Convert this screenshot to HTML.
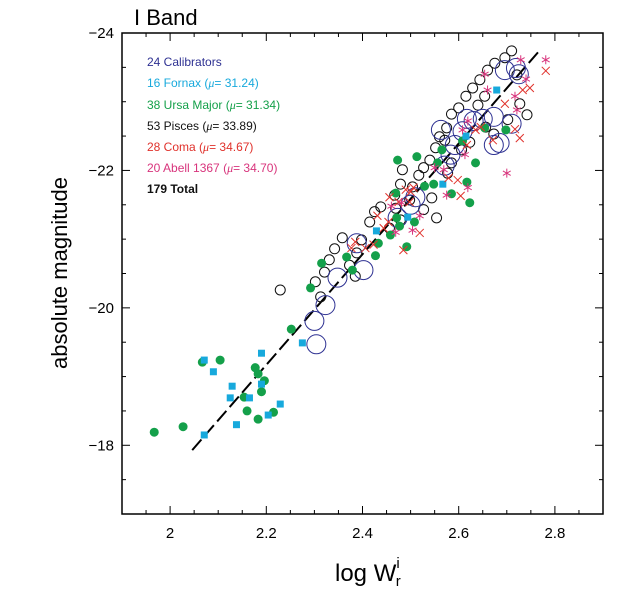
<!DOCTYPE html>
<html><head><meta charset="utf-8"><style>
body{margin:0;background:#fff;}
svg{display:block;font-family:"Liberation Sans",sans-serif;}
</style></head><body>
<svg id="chart" width="620" height="592" viewBox="0 0 620 592" xmlns="http://www.w3.org/2000/svg">
<text x="134" y="25" font-size="22">I Band</text>
<rect x="122" y="33" width="481" height="481" fill="none" stroke="#000" stroke-width="1.5"/>
<g id="ticks"></g>
<g id="marks"></g>
<text x="335" y="581" font-size="24">log W<tspan font-size="15" dx="0" dy="-13">i</tspan><tspan font-size="15" dx="-4" dy="18">r</tspan></text>
<text transform="translate(67,273) rotate(-90)" text-anchor="middle" font-size="22">absolute magnitude</text>
<g font-size="12">
<text x="147" y="66" fill="#2e3192">24 Calibrators</text>
<text x="147" y="87" fill="#17a9dc">16 Fornax (<tspan font-style="italic" font-family="Liberation Serif">μ</tspan>= 31.24)</text>
<text x="147" y="109" fill="#14a04a">38 Ursa Major (<tspan font-style="italic" font-family="Liberation Serif">μ</tspan>= 31.34)</text>
<text x="147" y="130" fill="#111">53 Pisces (<tspan font-style="italic" font-family="Liberation Serif">μ</tspan>= 33.89)</text>
<text x="147" y="151" fill="#e0312b">28 Coma (<tspan font-style="italic" font-family="Liberation Serif">μ</tspan>= 34.67)</text>
<text x="147" y="172" fill="#d8347c">20 Abell 1367 (<tspan font-style="italic" font-family="Liberation Serif">μ</tspan>= 34.70)</text>
<text x="147" y="193" fill="#111" font-weight="bold">179  Total</text>
</g>
</svg>
<script>
const xTicks=[2,2.2,2.4,2.6,2.8];
const xTickLabels=["2","2.2","2.4","2.6","2.8"];
const yTicks=[-24,-22,-20,-18];
const yTickLabels=["\u221224","\u221222","\u221220","\u221218"];
const fitLine=[[2.046,-17.93],[2.765,-23.72]];
const fornaxX=[2.071,2.090,2.129,2.125,2.190,2.190,2.165,2.138,2.204,2.229,2.071,2.275,2.429,2.494,2.567,2.615,2.679];
const fornaxY=[-19.24,-19.07,-18.86,-18.69,-19.34,-18.89,-18.69,-18.30,-18.44,-18.60,-18.15,-19.49,-21.12,-21.32,-21.80,-22.50,-23.17];
const ursaX=[1.967,2.027,2.067,2.104,2.177,2.183,2.196,2.190,2.154,2.160,2.183,2.215,2.252,2.315,2.292,2.367,2.379,2.427,2.433,2.458,2.477,2.492,2.471,2.508,2.469,2.473,2.513,2.529,2.548,2.556,2.565,2.585,2.617,2.623,2.635,2.698,2.608,2.654];
const ursaY=[-18.19,-18.27,-19.21,-19.24,-19.13,-19.04,-18.94,-18.78,-18.70,-18.50,-18.38,-18.48,-19.69,-20.65,-20.29,-20.74,-20.55,-20.76,-20.94,-21.06,-21.19,-20.89,-21.31,-21.25,-21.67,-22.15,-22.20,-21.77,-21.80,-22.11,-22.30,-21.66,-21.83,-21.53,-22.11,-22.59,-22.43,-22.62];
const piscesX=[2.229,2.313,2.302,2.321,2.331,2.342,2.358,2.373,2.385,2.388,2.398,2.415,2.425,2.438,2.456,2.469,2.467,2.479,2.498,2.504,2.517,2.527,2.540,2.552,2.560,2.575,2.585,2.600,2.615,2.629,2.644,2.660,2.675,2.696,2.710,2.721,2.727,2.742,2.702,2.673,2.656,2.623,2.606,2.585,2.577,2.544,2.527,2.554,2.479,2.483,2.571,2.654,2.640];
const piscesY=[-20.26,-20.16,-20.38,-20.52,-20.70,-20.86,-21.02,-20.62,-20.46,-20.80,-20.99,-21.25,-21.40,-21.47,-21.16,-21.45,-21.64,-21.28,-21.57,-21.76,-21.93,-22.04,-22.15,-22.33,-22.49,-22.62,-22.82,-22.91,-23.08,-23.20,-23.32,-23.46,-23.56,-23.64,-23.74,-23.39,-22.97,-22.81,-22.74,-22.53,-22.63,-22.41,-22.30,-22.11,-21.96,-21.60,-21.43,-21.31,-21.80,-22.01,-22.44,-23.08,-22.95];
const calibX=[2.304,2.300,2.323,2.348,2.402,2.388,2.473,2.500,2.510,2.571,2.583,2.592,2.563,2.608,2.617,2.631,2.650,2.673,2.685,2.696,2.719,2.725,2.710,2.673];
const calibY=[-19.47,-19.81,-20.04,-20.44,-20.55,-20.94,-21.31,-21.50,-21.61,-22.07,-22.23,-22.37,-22.59,-22.57,-22.75,-22.72,-22.75,-22.78,-22.40,-23.46,-23.49,-23.40,-22.68,-22.37];
const comaX=[2.377,2.385,2.423,2.431,2.454,2.475,2.500,2.506,2.485,2.456,2.579,2.598,2.604,2.635,2.646,2.671,2.696,2.717,2.727,2.733,2.781,2.498,2.444,2.490,2.748,2.617,2.406,2.519];
const comaY=[-20.87,-20.96,-20.92,-21.34,-21.25,-21.54,-21.69,-21.75,-20.84,-21.61,-21.89,-21.86,-21.63,-22.59,-22.63,-22.44,-22.97,-22.60,-22.47,-23.17,-23.45,-21.54,-21.16,-21.72,-23.20,-22.37,-20.87,-21.09];
const abellX=[2.550,2.608,2.619,2.619,2.660,2.717,2.781,2.729,2.740,2.721,2.460,2.481,2.504,2.519,2.469,2.569,2.575,2.613,2.654,2.700];
const abellY=[-22.04,-22.59,-22.72,-21.75,-23.17,-23.08,-23.61,-23.61,-23.33,-22.88,-21.48,-21.53,-21.13,-21.34,-21.10,-22.01,-21.64,-22.23,-23.40,-21.96];

const NS='http://www.w3.org/2000/svg';
const X0=122,X1=603,Y0=514,Y1=33;
function sx(v){return X0+(v-1.9)/(2.9-1.9)*(X1-X0);}
function sy(v){return Y0-(v-(-17))/(-24-(-17))*(Y0-Y1);}
function mk(tag,attrs,parent){const e=document.createElementNS(NS,tag);for(const k in attrs)e.setAttribute(k,attrs[k]);parent.appendChild(e);return e;}
const tg=document.getElementById('ticks');
for(let v=1.95;v<2.9;v+=0.05){
  const major=Math.abs(v*10-Math.round(v*10))<1e-6&&Math.round(v*10)%2===0;
  const L=major?8:4;const x=sx(v);
  const t1=mk('line',{x1:x,x2:x,y1:Y0,y2:Y0-L,stroke:'#000','stroke-width':1},tg);
  
  
  const t2=mk('line',{x1:x,x2:x,y1:Y1,y2:Y1+L,stroke:'#000','stroke-width':1},tg);
  
  
}
for(let v=-17.5;v>-24;v-=0.5){
  const major=Math.abs(v-Math.round(v))<1e-6&&Math.round(v)%2===0;
  const L=major?8:4;const y=sy(v);
  const t1=mk('line',{x1:X0,x2:X0+L,y1:y,y2:y,stroke:'#000','stroke-width':1},tg);
  
  
  const t2=mk('line',{x1:X1,x2:X1-L,y1:y,y2:y,stroke:'#000','stroke-width':1},tg);
  
  
}
xTicks.forEach((v,i)=>{
  const t=mk('text',{x:sx(v),y:538,'text-anchor':'middle','font-size':15},tg);
  t.textContent=xTickLabels[i];
  
  
});
yTicks.forEach((v,i)=>{
  const t=mk('text',{x:114,y:sy(v)+5,'text-anchor':'end','font-size':15},tg);
  t.textContent=yTickLabels[i];
  
  
});
const mg=document.getElementById('marks');
const fl=mk('line',{x1:sx(fitLine[0][0]),y1:sy(fitLine[0][1]),x2:sx(fitLine[1][0]),y2:sy(fitLine[1][1]),stroke:'#000','stroke-width':2,'stroke-dasharray':'14 5'},mg);


piscesX.forEach((v,i)=>{
  const c=mk('circle',{cx:sx(v),cy:sy(piscesY[i]),r:5,fill:'none',stroke:'#111','stroke-width':1},mg);
  
  
});
calibX.forEach((v,i)=>{
  const c=mk('circle',{cx:sx(v),cy:sy(calibY[i]),r:9.5,fill:'none',stroke:'#2e3192','stroke-width':1},mg);
  
  
});
ursaX.forEach((v,i)=>{
  const c=mk('circle',{cx:sx(v),cy:sy(ursaY[i]),r:4.5,fill:'#14a04a'},mg);
  
  
});
fornaxX.forEach((v,i)=>{
  const c=mk('rect',{x:sx(v)-3.5,y:sy(fornaxY[i])-3.5,width:7,height:7,fill:'#17a9dc'},mg);
  
  
});
comaX.forEach((v,i)=>{
  const x=sx(v),y=sy(comaY[i]),d=4;
  const p=mk('path',{d:`M${x-d},${y-d}L${x+d},${y+d}M${x-d},${y+d}L${x+d},${y-d}`,stroke:'#e0312b','stroke-width':1,fill:'none'},mg);
  
  
});
abellX.forEach((v,i)=>{
  const x=sx(v),y=sy(abellY[i]),d=4.5,e=3.9,f=2.25;
  const p=mk('path',{d:`M${x},${y-d}L${x},${y+d}M${x-e},${y-f}L${x+e},${y+f}M${x-e},${y+f}L${x+e},${y-f}`,stroke:'#d8347c','stroke-width':1,fill:'none'},mg);
  
  
});
</script>
</body></html>
